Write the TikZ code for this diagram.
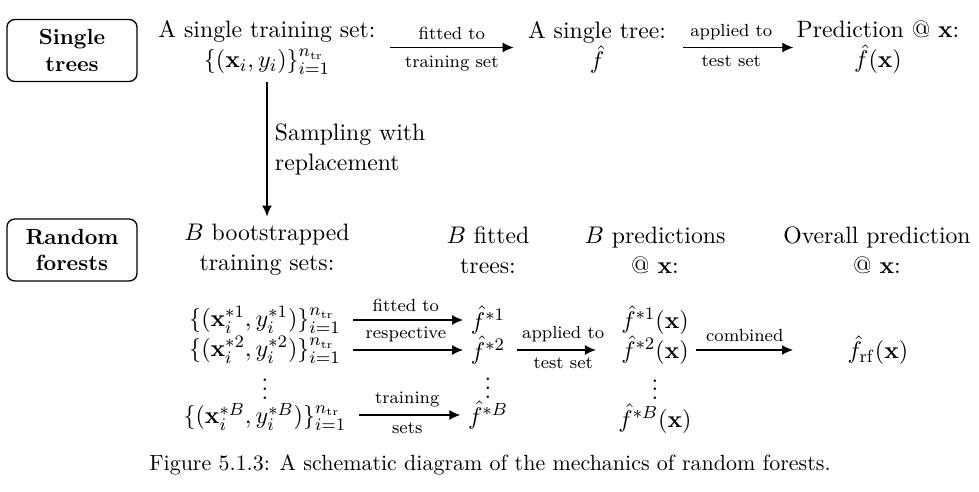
\documentclass[tikz,border=0pt]{standalone}
\usepackage{amsmath,amssymb}
\usepackage{tikz}
\usetikzlibrary{arrows.meta, positioning}

\begin{document}
\begin{tikzpicture}[
  method/.style={rectangle, rounded corners=3.5pt, draw, semithick,
                 minimum width=2.08cm, minimum height=0.99cm, align=center,
                 font=\bfseries},
  entry/.style={align=center, font=\fontsize{10.8}{13.7}\selectfont},
  cell/.style={font=\fontsize{10.8}{13}\selectfont},
  flow/.style={semithick, -{Latex[length=5pt, width=4.5pt]}},
  lbl/.style={font=\footnotesize, midway},
]
  \useasboundingbox (0,0) rectangle (15.664,-7.872);

  % Row labels
  \node[method] at (1.152,-0.808) (single) {Single\\trees};
  \node[method] at (1.152,-4.0)   (forest) {Random\\forests};

  % Single tree pipeline
  \node[entry] at (4.272,-0.76)  (train) {A single training set:\\
       $\{(\mathbf{x}_i, y_i)\}_{i=1}^{n_{\mathrm{tr}}}$};
  \node[entry] at (9.552,-0.76)  (tree) {A single tree:\\ $\hat{f}$};
  \node[entry] at (14.048,-0.76) (pred) {Prediction @ $\mathbf{x}$:\\
       $\hat{f}(\mathbf{x})$};

  \draw[flow, shorten <=3pt, shorten >=3pt] (train) -- (tree)
    node[lbl, above] {fitted to} node[lbl, below] {training set};
  \draw[flow, shorten <=4pt, shorten >=-2pt] (tree) -- (pred)
    node[lbl, above] {applied to} node[lbl, below] {test set};

  % Headers of the forest pipeline
  \node[entry] at (4.272,-4.0)  (boot) {$B$ bootstrapped\\training sets:};
  \node[entry] at (7.808,-4.0)  (fitted) {$B$ fitted\\trees:};
  \node[entry] at (10.48,-4.0)  (preds) {$B$ predictions\\@ $\mathbf{x}$:};
  \node[entry] at (14.032,-4.0) (overall) {Overall prediction\\@ $\mathbf{x}$:};

  \draw[flow] (train) -- (boot)
    node[midway, right, align=left, font=\fontsize{10.8}{13.7}\selectfont]
    {Sampling with\\replacement};

  % Bootstrapped sets
  \node[cell] at (4.24,-5.12)  (s1) {$\{(\mathbf{x}_i^{*1}, y_i^{*1})\}_{i=1}^{n_{\mathrm{tr}}}$};
  \node[cell] at (4.24,-5.6)   (s2) {$\{(\mathbf{x}_i^{*2}, y_i^{*2})\}_{i=1}^{n_{\mathrm{tr}}}$};
  \node[cell] at (4.24,-6.12)  (sdots) {$\vdots$};
  \node[cell] at (4.24,-6.672) (sB) {$\{(\mathbf{x}_i^{*B}, y_i^{*B})\}_{i=1}^{n_{\mathrm{tr}}}$};

  % Fitted trees
  \node[cell] at (7.808,-5.12)  (t1) {$\hat{f}^{*1}$};
  \node[cell] at (7.808,-5.6)   (t2) {$\hat{f}^{*2}$};
  \node[cell] at (7.808,-6.11)  (tdots) {$\vdots$};
  \node[cell] at (7.808,-6.64)  (tB) {$\hat{f}^{*B}$};

  % Predictions
  \node[cell] at (10.48,-5.12)  (p1) {$\hat{f}^{*1}(\mathbf{x})$};
  \node[cell] at (10.48,-5.6)   (p2) {$\hat{f}^{*2}(\mathbf{x})$};
  \node[cell] at (10.48,-6.13)  (pdots) {$\vdots$};
  \node[cell] at (10.48,-6.7)   (pB) {$\hat{f}^{*B}(\mathbf{x})$};

  \node[cell] at (14.048,-5.6) (frf) {$\hat{f}_{\mathrm{rf}}(\mathbf{x})$};
  \coordinate (combend) at (12.688,-5.6);

  \draw[flow, shorten <=2pt] (s1) -- (t1) node[lbl, above] {fitted to};
  \draw[flow, shorten <=2pt] (s2) -- (t2) node[lbl, above] {respective};
  \draw[flow, shorten <=2pt] (sB.east |- tB) -- (tB)
    node[lbl, above] {training} node[lbl, below] {sets};
  \draw[flow, shorten <=2pt, shorten >=8pt] (t2) -- (p2)
    node[lbl, above] {applied to} node[lbl, below] {test set};
  \draw[flow] (p2) -- (combend) node[lbl, above] {combined};

  % Caption
  \node at (7.84,-7.44) (caption)
    {Figure 5.1.3: A schematic diagram of the mechanics of random forests.};
\end{tikzpicture}
\end{document}
